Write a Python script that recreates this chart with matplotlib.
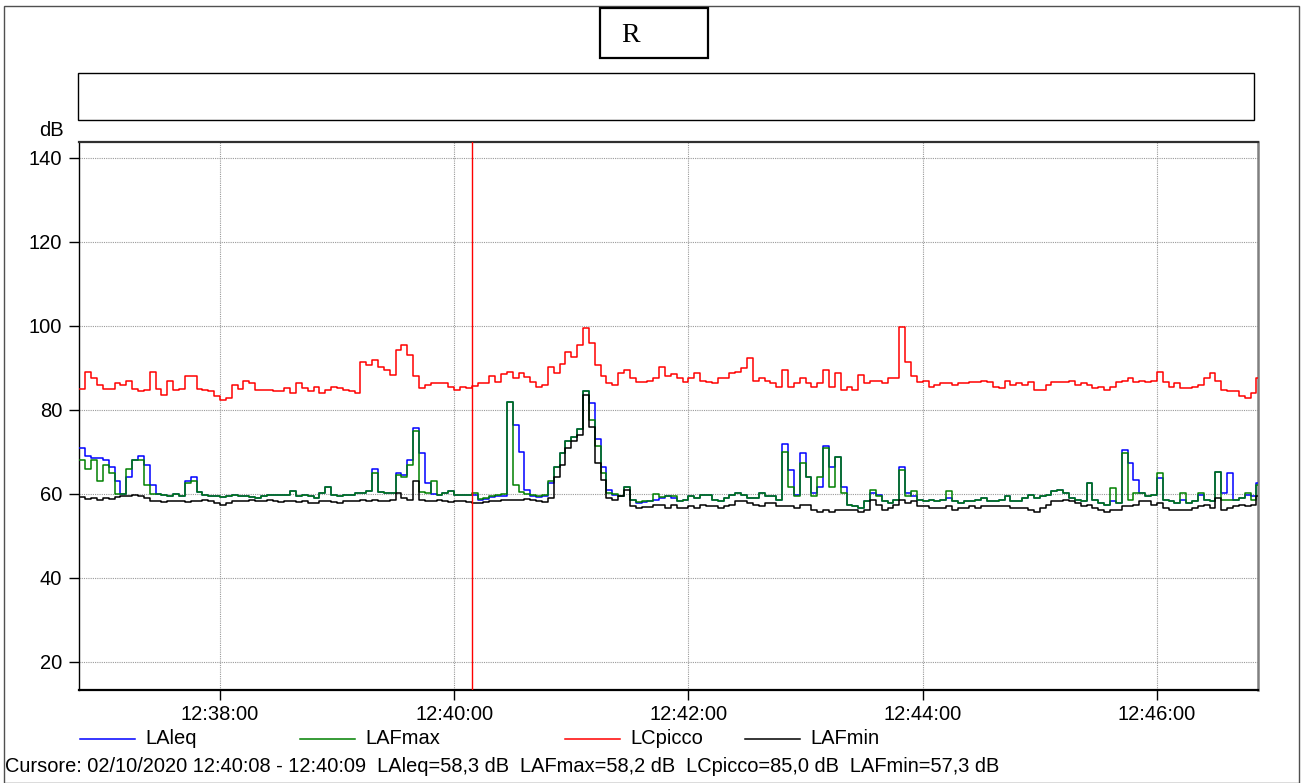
import numpy as np
import matplotlib
matplotlib.use("Agg")
import matplotlib.pyplot as plt
from matplotlib.lines import Line2D
from matplotlib.patches import Rectangle
from datetime import datetime

plt.rcParams['font.family'] = ['Liberation Sans', 'DejaVu Sans']

# ---------------- data (3-second resolution) ----------------
start_time = datetime(2020, 10, 2, 12, 36, 48)
step_s = 3

lcpicco = [
    85, 89, 87.5, 86, 85, 85, 86.5, 86, 87, 85,
    84.4, 84.8, 89, 85, 83.6, 87, 84.8, 85, 88, 88,
    85, 84.8, 84.4, 83.3, 82.4, 82.8, 86, 85, 87, 86.3,
    84.8, 84.8, 84.8, 84.4, 84.6, 85.2, 84, 86.5, 85.2, 84.4,
    85.5, 84, 84.8, 85.5, 85.2, 84.8, 84.4, 84, 91.5, 90.7,
    92, 90.3, 89.5, 88.3, 94.3, 95.5, 93, 88, 85.2, 86,
    86.3, 86.3, 86.5, 85.5, 84.8, 85.5, 85.2, 85.8, 86.5, 86.3,
    88, 86.7, 88.5, 89, 87.5, 88.7, 87.9, 86.7, 85.5, 86,
    90.3, 88.7, 91, 93.9, 92.7, 95.5, 99.4, 95.9, 90.7, 88,
    86.3, 86, 88.7, 89.5, 87.5, 86.7, 86.7, 87, 87.5, 90.3,
    88, 88.5, 87.5, 86.7, 87.5, 88.7, 87, 86.7, 86.3, 87.5,
    87.5, 88.7, 89, 90, 92.3, 87, 87.5, 87, 86.3, 85.5,
    89.5, 85.5, 86.3, 87.5, 86.3, 85.5, 86.3, 89.5, 85.5, 88.7,
    84.8, 85.5, 84.8, 88.3, 86.3, 87, 87, 86.3, 87.5, 87.5,
    99.8, 91.5, 88, 86.7, 87, 85.5, 86, 86.3, 86.3, 86,
    86.3, 86.3, 86.7, 86.7, 87, 86.7, 85.5, 85.2, 87, 86,
    86.3, 86, 86.7, 84.8, 84.8, 86, 86.7, 86.7, 86.7, 87,
    86, 86.3, 86, 85.2, 85.5, 84.8, 85.5, 86.7, 87, 87.5,
    86.7, 87, 86.7, 87, 89, 86.7, 85.5, 86.3, 85.2, 85.2,
    85.5, 86, 87.5, 88.7, 87, 84.8, 84.4, 84.4, 83.2, 82.8,
    84, 87.5,
]

laleq = [
    71, 69, 68.5, 68.5, 68, 66.5, 63, 60, 64, 68,
    69, 67, 62, 60, 59.8, 59.5, 60, 59.6, 63, 64,
    60.5, 59.8, 59.5, 59.4, 59.2, 59.5, 59.8, 59.4, 59.6, 59.3,
    59, 59.5, 59.8, 59.8, 59.8, 59.8, 60.8, 59.4, 59.8, 59.4,
    59, 60.2, 61.7, 59.8, 59.4, 59.8, 59.8, 60.2, 60.2, 60.6,
    66, 60.5, 60.2, 60.2, 65, 64.5, 68, 75.6, 69.7, 62.5,
    60, 59.8, 60.2, 60.6, 59.8, 59.8, 59.8, 59.8, 58.5, 58.8,
    59.2, 59.5, 59.6, 82, 76.5, 70, 61, 59.5, 59.3, 59.5,
    62.5, 66.5, 69.7, 72.5, 73.6, 75.5, 84.4, 81.6, 73, 66.5,
    61, 59.8, 59.4, 61.7, 58.5, 57.8, 58, 58.2, 58.6, 59,
    59.4, 59, 58.2, 58.6, 59.4, 59, 59.8, 59.8, 58.6, 58.2,
    59, 59.8, 60.2, 59.8, 59, 59, 60.2, 59.4, 59.4, 58.6,
    72, 65.7, 59.8, 69.7, 64, 60.2, 61.7, 71.3, 66.5, 68.9,
    61.7, 57.4, 57, 56.6, 58.2, 60.2, 59.8, 58.2, 57.8, 58.6,
    66.5, 60.2, 59.4, 58.6, 58.2, 58.6, 58.2, 58.6, 59, 58.2,
    57.8, 58.2, 58.2, 58.6, 59, 58.2, 58.2, 58.6, 59.4, 58.2,
    58.2, 59, 59.8, 59, 59.4, 59.8, 60.6, 61, 60.2, 59,
    58.6, 58.2, 62.5, 58.6, 57.8, 57.4, 58.2, 57.8, 70.5, 67.3,
    63.3, 60.2, 59.4, 59.8, 63.7, 58.6, 58.2, 57.8, 58.6, 57.8,
    58.2, 59.8, 58.6, 58.2, 65.3, 60.2, 65, 58.6, 59, 59.8,
    59.4, 62.5,
]

lafmax = [
    68, 66, 68, 63, 67, 65, 60, 60, 66, 68,
    68, 62, 60, 60, 59.8, 59.5, 60, 59.6, 62.5, 63,
    60.5, 59.8, 59.5, 59.4, 59.2, 59.5, 59.8, 59.4, 59.6, 59.3,
    59, 59.5, 59.8, 59.8, 59.8, 59.8, 60.8, 59.4, 59.8, 59.4,
    59, 60.2, 61.7, 59.8, 59.4, 59.8, 59.8, 60.2, 60.2, 60.6,
    65, 60.5, 60.2, 60.2, 64.5, 64, 67, 75, 60.5, 60.2,
    63, 59.8, 60.2, 60.6, 59.8, 59.8, 59.8, 60.2, 58.8, 59,
    59.4, 59.8, 60, 82, 62, 60.5, 60, 59.8, 59.5, 59.8,
    63, 66.5, 69.7, 72.5, 73.6, 75.5, 84.4, 77.6, 71.3, 65,
    60.2, 60, 59.6, 61.7, 58.5, 58, 58.2, 58.4, 60, 59.2,
    59.6, 59.4, 58.2, 58.6, 59.4, 59, 59.8, 59.8, 58.6, 58.2,
    59, 59.8, 60.2, 59.8, 59, 59, 60.2, 59.4, 59.4, 58.6,
    70, 61.7, 59.4, 67.3, 64, 59.4, 64, 70.9, 61.7, 68.9,
    60.2, 57.4, 57, 56.6, 58.2, 61, 59.4, 58.2, 57.8, 58.6,
    65.7, 59.4, 60.6, 58.6, 58.2, 58.6, 58.2, 58.6, 60.6, 58.2,
    57.8, 58.2, 58.2, 58.6, 59, 58.2, 58.2, 58.6, 59.4, 58.2,
    58.2, 59, 59.8, 59, 59.4, 59.8, 60.6, 61, 60.2, 59,
    58.6, 58.2, 62.5, 58.6, 57.8, 57.4, 61.3, 57.8, 69.7, 58.6,
    60.2, 60.2, 59.4, 59.8, 65, 58.6, 58.2, 57.8, 60.2, 57.8,
    58.2, 60.2, 58.6, 58.2, 65.3, 58.6, 58.6, 58.6, 59, 60.2,
    58.6, 62.1,
]

lafmin = [
    59.2, 58.8, 59, 58.6, 59, 58.8, 59.2, 59.4, 59.6, 59.8,
    59.6, 59, 58.2, 58.4, 58, 58.2, 58.4, 58.2, 58, 58.4,
    58.2, 58.6, 58.2, 57.8, 57.4, 57.8, 58.2, 58.4, 58.2, 58.6,
    58.2, 58.4, 58.6, 58.2, 58, 58.2, 58.4, 58, 58.2, 57.8,
    57.8, 58.2, 58.4, 58, 57.8, 58.2, 58.4, 58.2, 58.6, 58.4,
    58.6, 58.2, 58.4, 58.6, 60.2, 59, 58.6, 63, 58.6, 58.2,
    58.4, 58.6, 58.2, 58, 58.2, 58.4, 58, 57.8, 57.8, 58,
    58.2, 58.3, 58.5, 58.6, 58.5, 58.6, 58.7, 58.5, 58.2, 58,
    59, 64, 67, 71, 72.7, 74, 83.6, 76, 67.3, 63.3,
    59, 58.6, 59.4, 61, 57, 56.6, 56.8, 56.8, 57.4, 57.4,
    56.6, 57.4, 56.6, 56.6, 57, 56.6, 57.4, 57, 57, 56.6,
    57, 57.4, 58.2, 58.2, 57.8, 57.4, 57, 57.8, 57.8, 57,
    57, 57, 56.6, 57.4, 57.4, 56.2, 55.8, 56.2, 55.8, 56.2,
    56.2, 56.2, 56.2, 55.8, 56.2, 58.6, 57.4, 56.2, 56.6, 57.4,
    58.6, 57.8, 58.2, 57, 57, 56.6, 56.6, 56.6, 57, 56.2,
    56.6, 56.6, 57, 56.6, 57, 57, 57, 57, 57, 56.6,
    56.6, 56.6, 56.2, 55.8, 56.6, 57.4, 58.2, 58.2, 58.6, 58.2,
    57.8, 57, 57.4, 56.6, 56.2, 55.8, 56.2, 56.2, 57, 57,
    57.4, 58.2, 58.2, 57.4, 57.8, 56.6, 56.2, 56.2, 56.2, 56.2,
    56.6, 57, 57.4, 56.6, 59, 56.2, 56.6, 57, 57.4, 57,
    57.4, 59.4,
]

series_names = ["LAleq", "LAFmax", "LCpicco", "LAFmin"]
series_colors = ["#0000ff", "#008000", "#ff0000", "#000000"]

cursor_time = datetime(2020, 10, 2, 12, 40, 9)
tick_times = [datetime(2020, 10, 2, 12, m, 0) for m in (38, 40, 42, 44, 46)]
y_ticks = [20, 40, 60, 80, 100, 120, 140]
cursor_text = ("Cursore: 02/10/2020 12:40:08 - 12:40:09  LAleq=58,3 dB  "
               "LAFmax=58,2 dB  LCpicco=85,0 dB  LAFmin=57,3 dB")
title_text = "R"

# ---------------- figure ----------------
W, H = 1301, 783
fig = plt.figure(figsize=(W / 100, H / 100), dpi=100)
fig.patch.set_facecolor("white")


def fx(x):
    return x / W


def fy(y):
    return 1 - y / H


# outer frame
fig.add_artist(Rectangle((fx(4), fy(783)), fx(1299) - fx(4), fy(6) - fy(783),
                         transform=fig.transFigure, fill=False,
                         edgecolor="#505050", linewidth=1.0))
# title box
fig.add_artist(Rectangle((fx(600), fy(58)), fx(708) - fx(600), fy(8) - fy(58),
                         transform=fig.transFigure, fill=False,
                         edgecolor="black", linewidth=1.6))
fig.text(fx(621), fy(35), title_text, ha="left", va="center",
         fontsize=20, family=["Liberation Serif", "DejaVu Serif"])
# empty comment box
fig.add_artist(Rectangle((fx(78), fy(120)), fx(1254) - fx(78), fy(73) - fy(120),
                         transform=fig.transFigure, fill=False,
                         edgecolor="black", linewidth=1.0))

ax = fig.add_axes([fx(79), fy(690), fx(1258) - fx(79), fy(142) - fy(690)])

n = len(laleq)
t = np.arange(n) * step_s
t_ext = np.append(t, t[-1] + step_s)


def ext(v):
    v = np.asarray(v, dtype=float)
    return np.append(v, v[-1])


data = {"LAleq": laleq, "LAFmax": lafmax, "LCpicco": lcpicco, "LAFmin": lafmin}
draw_order = ["LCpicco", "LAleq", "LAFmax", "LAFmin"]
for name in draw_order:
    c = series_colors[series_names.index(name)]
    ax.step(t_ext, ext(data[name]), where="post", color=c, linewidth=1.1, zorder=3)

cursor_s = (cursor_time - start_time).total_seconds()
ax.axvline(cursor_s, color="#ff0000", linewidth=1.0, zorder=4)

ax.set_xlim(-0.2, 603.8)
ax.set_ylim(13.3, 143.8)

xt = [(tt - start_time).total_seconds() for tt in tick_times]
ax.set_xticks(xt)
ax.set_xticklabels([tt.strftime("%H:%M:%S") for tt in tick_times])
ax.set_yticks(y_ticks)
ax.set_yticklabels([str(v) for v in y_ticks])

ax.grid(True, color="#9a9a9a", linestyle=(0, (1, 1)), linewidth=0.8, zorder=1)
ax.tick_params(axis="both", labelsize=14.5, length=7, width=1, color="black",
               direction="out")
ax.tick_params(axis="y", pad=5)
ax.tick_params(axis="x", pad=4)

ax.spines["top"].set_color("#303030")
ax.spines["top"].set_linewidth(1.6)
ax.spines["right"].set_color("#808080")
ax.spines["right"].set_linewidth(1.8)
ax.spines["bottom"].set_color("black")
ax.spines["bottom"].set_linewidth(1.6)
ax.spines["left"].set_color("black")
ax.spines["left"].set_linewidth(1.0)

fig.text(fx(51), fy(130), "dB", ha="center", va="center", fontsize=14.5)

# legend (manual)
leg_x = [80, 300, 565, 745]
for name, lx in zip(series_names, leg_x):
    c = series_colors[series_names.index(name)]
    fig.add_artist(Line2D([fx(lx), fx(lx + 55)], [fy(739), fy(739)],
                          transform=fig.transFigure, color=c, linewidth=1.1))
    fig.text(fx(lx + 65), fy(739), name, ha="left", va="center", fontsize=14.5)

fig.text(fx(5), fy(766), cursor_text, ha="left", va="center", fontsize=14.4)

fig.savefig("out.png", dpi=100)
